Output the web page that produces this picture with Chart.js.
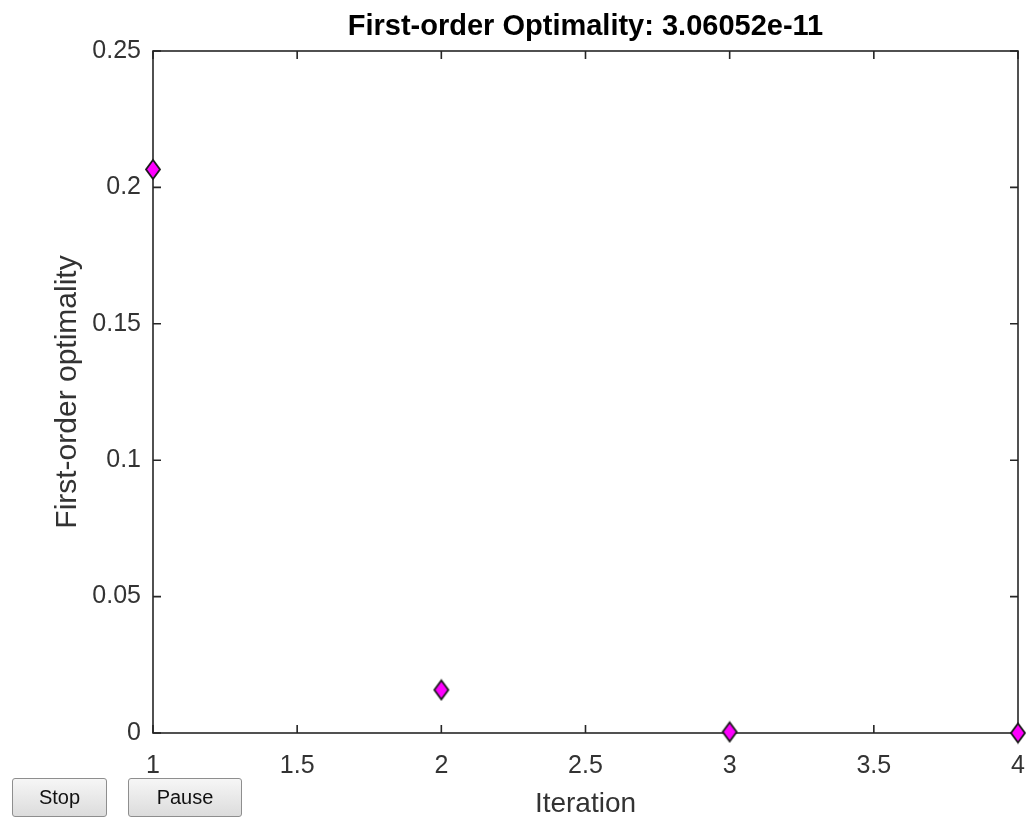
<!DOCTYPE html>
<html>
<head>
<meta charset="utf-8">
<script src="https://cdn.jsdelivr.net/npm/chart.js@4.4.1/dist/chart.umd.min.js"></script>
<style>
  html, body { margin: 0; padding: 0; background: #ffffff; }
  #wrap { position: relative; width: 1029px; height: 818px; overflow: hidden; }
  canvas { display: block; }
  .btn {
    position: absolute; box-sizing: border-box; height: 39px; top: 778px;
    font-family: "Liberation Sans", Arial, sans-serif; font-size: 20px; color: #111;
    background: linear-gradient(#f6f6f6, #dcdcdc); border: 1px solid #8e8e8e;
    border-radius: 3px; padding: 0; margin: 0;
  }
</style>
</head>
<body>
<div id="wrap">
  <canvas id="c" width="1029" height="818"></canvas>
  <button class="btn" style="left:12px;width:95px;">Stop</button>
  <button class="btn" style="left:128px;width:114px;">Pause</button>
</div>
<script>
// ---- data ----
const iterations = [1, 2, 3, 4];
const optimality = [0.2066, 0.0158, 0.0004, 3.06052e-11];
const xTicks = [1, 1.5, 2, 2.5, 3, 3.5, 4];
const yTicks = [0, 0.05, 0.1, 0.15, 0.2, 0.25];
const titleText = 'First-order Optimality: 3.06052e-11';
const xTitle = 'Iteration';
const yTitle = 'First-order optimality';

// diamond marker image
function diamond(w, h) {
  const c = document.createElement('canvas');
  c.width = w + 4; c.height = h + 4;
  const g = c.getContext('2d');
  const cx = c.width / 2, cy = c.height / 2;
  g.beginPath();
  g.moveTo(cx, cy - h / 2);
  g.lineTo(cx + w / 2, cy);
  g.lineTo(cx, cy + h / 2);
  g.lineTo(cx - w / 2, cy);
  g.closePath();
  g.fillStyle = '#ff00ff';
  g.fill();
  g.lineWidth = 1.8;
  g.strokeStyle = '#1a1a1a';
  g.stroke();
  return c;
}
const marker = diamond(14, 19);

const AXIS_COLOR = '#262626';
const boxPlugin = {
  id: 'matlabBox',
  beforeDatasetsDraw(chart) {
    const { ctx, chartArea: a, scales } = chart;
    ctx.save();
    ctx.strokeStyle = AXIS_COLOR;
    ctx.lineWidth = 1.6;
    ctx.strokeRect(a.left, a.top, a.right - a.left, a.bottom - a.top);
    const tl = 8;
    ctx.beginPath();
    scales.x.ticks.forEach(t => {
      const px = scales.x.getPixelForValue(t.value);
      ctx.moveTo(px, a.bottom); ctx.lineTo(px, a.bottom - tl);
      ctx.moveTo(px, a.top); ctx.lineTo(px, a.top + tl);
    });
    scales.y.ticks.forEach(t => {
      const py = scales.y.getPixelForValue(t.value);
      ctx.moveTo(a.left, py); ctx.lineTo(a.left + tl, py);
      ctx.moveTo(a.right, py); ctx.lineTo(a.right - tl, py);
    });
    ctx.stroke();
    ctx.restore();
  }
};

new Chart(document.getElementById('c'), {
  type: 'scatter',
  data: {
    datasets: [{
      data: iterations.map((x, i) => ({ x, y: optimality[i] })),
      pointStyle: marker,
      pointRadius: 10,
      showLine: false,
      clip: false
    }]
  },
  options: {
    responsive: false,
    animation: false,
    events: [],
    layout: { padding: { left: 0, right: 9, top: 0, bottom: 0 } },
    plugins: {
      legend: { display: false },
      tooltip: { enabled: false },
      title: {
        display: true,
        text: titleText,
        fullSize: false,
        color: '#000000',
        font: { family: 'Liberation Sans, Arial, sans-serif', size: 29, weight: 'bold', lineHeight: 1.2 },
        padding: { top: 10, bottom: 6.2 }
      }
    },
    scales: {
      x: {
        type: 'linear',
        min: 1, max: 4,
        afterBuildTicks(s) { s.ticks = xTicks.map(v => ({ value: v })); },
        afterFit(s) { s.height = 85; s.paddingLeft = 0; s.paddingRight = 0; },
        grid: { display: false, drawTicks: false },
        border: { display: false },
        ticks: {
          padding: 18,
          color: '#333333',
          font: { family: 'Liberation Sans, Arial, sans-serif', size: 25 },
          maxRotation: 0,
          autoSkip: false,
          callback: v => String(v)
        },
        title: {
          display: true, text: xTitle, color: '#333333', padding: 0,
          font: { family: 'Liberation Sans, Arial, sans-serif', size: 28, lineHeight: 1 }
        }
      },
      y: {
        type: 'linear',
        min: 0, max: 0.25,
        afterBuildTicks(s) { s.ticks = yTicks.map(v => ({ value: v })); },
        afterFit(s) { s.width = 153; s.paddingTop = 0; s.paddingBottom = 0; },
        grid: { display: false, drawTicks: false },
        border: { display: false },
        ticks: {
          padding: 12,
          color: '#333333',
          font: { family: 'Liberation Sans, Arial, sans-serif', size: 25 },
          autoSkip: false,
          callback: v => String(v)
        },
        title: {
          display: true, text: yTitle, color: '#333333', padding: 53,
          font: { family: 'Liberation Sans, Arial, sans-serif', size: 30, lineHeight: 1 }
        }
      }
    }
  },
  plugins: [boxPlugin]
});
</script>
</body>
</html>
